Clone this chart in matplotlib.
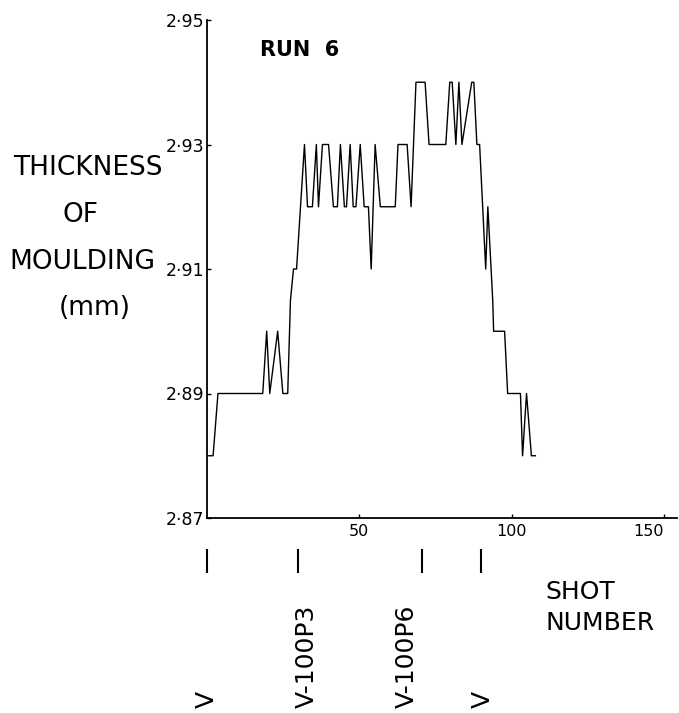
import matplotlib
matplotlib.use("Agg")
import matplotlib.pyplot as plt
import matplotlib.transforms as mtransforms

# Traced line of moulding thickness against shot number (run 6)
shots = [0, 2, 3.6, 18.3, 19.2, 19.6, 20.6, 23.2, 24.9, 26.5, 27.4, 28.4, 29.4,
         32, 33, 34.6, 35.9, 36.6, 37.9, 39.9, 41.5, 42.8, 43.8, 45.1, 45.8,
         47, 48, 48.9, 50.3, 51.6, 53, 53.9, 55.2, 56.9, 61.8, 62.7, 65.7,
         67, 68.6, 71.6, 72.9, 78.4, 79.7, 80.5, 81.7, 82.7, 83.7, 86.9, 87.6,
         88.6, 89.5, 91.5, 92.2, 93.8, 94.1, 97.7, 98.7, 102.9, 103.6, 104.9,
         106.5, 107.8]
thickness = [2.88, 2.88, 2.89, 2.89, 2.897, 2.90, 2.89, 2.90, 2.89, 2.89, 2.905, 2.91, 2.91,
             2.93, 2.92, 2.92, 2.93, 2.92, 2.93, 2.93, 2.92, 2.92, 2.93, 2.92, 2.92,
             2.93, 2.92, 2.92, 2.93, 2.92, 2.92, 2.91, 2.93, 2.92, 2.92, 2.93, 2.93,
             2.92, 2.94, 2.94, 2.93, 2.93, 2.94, 2.94, 2.93, 2.94, 2.93, 2.94, 2.94,
             2.93, 2.93, 2.91, 2.92, 2.905, 2.90, 2.90, 2.89, 2.89, 2.88, 2.89,
             2.88, 2.88]

yticks = [2.87, 2.89, 2.91, 2.93, 2.95]
ytick_labels = ["2·87", "2·89", "2·91", "2·93", "2·95"]
xticks = [50, 100, 150]
xtick_labels = ["50", "100", "150"]

# condition changes marked under the axis
marker_shots = [0, 30, 70.5, 90]
condition_shots = [0, 32.7, 65.7, 90.5]
condition_labels = ["V", "V-100P3", "V-100P6", "V"]

ylabel_lines = ["THICKNESS", "OF", "MOULDING", "(mm)"]

fig = plt.figure(figsize=(6.79, 7.13), dpi=100)
ax = fig.add_axes([207 / 679, 1 - 518 / 713, 470 / 679, 498 / 713])

ax.plot(shots, thickness, color="black", lw=1.0)

ax.set_xlim(0, 154.3)
ax.set_ylim(2.87, 2.95)
ax.spines["top"].set_visible(False)
ax.spines["right"].set_visible(False)
ax.spines["left"].set_linewidth(1.3)
ax.spines["bottom"].set_linewidth(1.3)

ax.set_yticks(yticks)
ax.set_yticklabels(ytick_labels, fontsize=12.5)
ax.set_xticks(xticks)
ax.set_xticklabels(xtick_labels, fontsize=11.5)
ax.tick_params(axis="both", direction="in", length=3, width=1, pad=2)
ax.tick_params(axis="x", pad=4)
for lbl in ax.get_xticklabels()[-1:]:
    lbl.set_ha("right")
    lbl.set_x(0)

ax.text(0.113, 0.96, "RUN  6", transform=ax.transAxes, fontsize=15,
        fontweight="bold", va="top", ha="left")

# y label, one line at a time
label_x = [88, 80, 82, 95]
label_y = [168, 215, 262, 308]
for txt, px, py in zip(ylabel_lines, label_x, label_y):
    fig.text(px / 679, 1 - py / 713, txt, fontsize=19, ha="center", va="center")

trans = mtransforms.blended_transform_factory(ax.transData, fig.transFigure)
for s in marker_shots:
    ax.plot([s, s], [1 - 550 / 713, 1 - 572 / 713], color="black", lw=1.5,
            transform=trans, clip_on=False)

for s, lab in zip(condition_shots, condition_labels):
    ax.text(s, 1 - 708 / 713, lab, transform=trans, rotation=90, fontsize=18,
            ha="center", va="bottom")

fig.text(545 / 679, 1 - 592 / 713, "SHOT", fontsize=18, ha="left", va="center")
fig.text(545 / 679, 1 - 623 / 713, "NUMBER", fontsize=18, ha="left", va="center")

fig.savefig("out.png", dpi=100)
